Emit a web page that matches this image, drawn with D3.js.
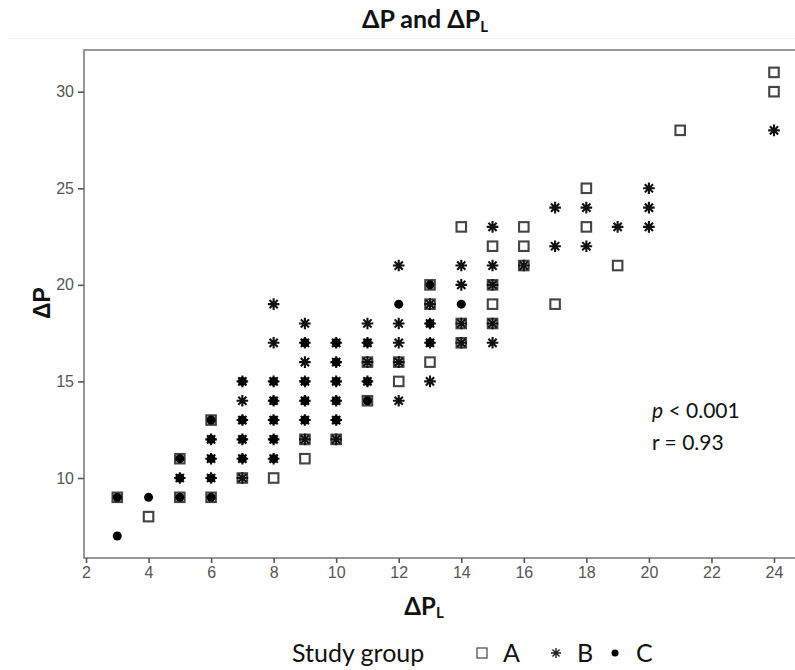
<!DOCTYPE html>
<html>
<head>
<meta charset="utf-8">
<script src="https://cdn.jsdelivr.net/npm/d3@7"></script>
<style>
  html, body { margin: 0; padding: 0; background: #fff; }
  svg { display: block; }
</style>
</head>
<body>
<svg id="chart" width="795" height="670"></svg>
<script>
// ---- data (ΔPL, ΔP) per study group ----
const groupA = [[3,9],[4,8],[5,11],[5,9],[6,13],[6,9],[7,10],[8,10],[9,12],[9,11],
  [10,12],[11,16],[11,14],[12,16],[12,15],[13,20],[13,19],[13,16],[14,23],[14,18],
  [14,17],[15,22],[15,20],[15,19],[15,18],[16,23],[16,22],[16,21],[17,19],[18,25],
  [18,23],[19,21],[21,28],[24,31],[24,30]];
const groupB = [[5,10],[6,12],[6,11],[6,10],[7,15],[7,14],[7,13],[7,12],[7,11],[7,10],
  [8,19],[8,17],[8,15],[8,14],[8,13],[8,12],[8,11],[9,18],[9,17],[9,16],[9,15],[9,14],
  [9,13],[9,12],[10,17],[10,16],[10,15],[10,14],[10,13],[10,12],[11,18],[11,17],[11,16],
  [11,15],[12,21],[12,18],[12,17],[12,16],[12,14],[13,19],[13,18],[13,17],[13,15],
  [14,21],[14,20],[14,18],[14,17],[15,23],[15,21],[15,20],[15,18],[15,17],[16,21],
  [17,24],[17,22],[18,24],[18,22],[19,23],[20,25],[20,24],[20,23],[24,28]];
const groupC = [[3,9],[3,7],[4,9],[5,11],[5,10],[5,9],[6,13],[6,12],[6,11],[6,10],[6,9],
  [7,15],[7,13],[7,12],[7,11],[8,15],[8,14],[8,13],[8,12],[8,11],[9,17],[9,15],[9,14],
  [9,13],[10,17],[10,16],[10,15],[10,14],[10,13],[11,17],[11,15],[11,14],[12,19],[13,20],
  [13,18],[13,17],[14,19]];
const xTicks = [2,4,6,8,10,12,14,16,18,20,22,24];
const yTicks = [10,15,20,25,30];
const groupNames = ["A","B","C"];

// ---- layout ----
const svg = d3.select("#chart");
const panel = {left: 84, top: 50, right: 800, bottom: 558};
const x = d3.scaleLinear().domain([2, 24]).range([86, 774]);
const y = d3.scaleLinear().domain([10, 30]).range([478, 91.7]);

const titleFont = "Lato, 'Open Sans', 'DejaVu Sans', sans-serif";
const tickFont = "'Liberation Sans', Arial, sans-serif";

// faint scan line above the panel
svg.append("line").attr("x1", 8).attr("x2", 795).attr("y1", 38.5).attr("y2", 38.5)
  .attr("stroke", "#f0f0f0").attr("stroke-width", 1);

// title
const title = svg.append("text").attr("x", 425).attr("y", 28)
  .attr("text-anchor", "middle").attr("font-family", titleFont)
  .attr("font-weight", "bold").attr("font-size", 25).attr("fill", "#111");
title.append("tspan").text("ΔP and ΔP");
title.append("tspan").text("L").attr("font-size", 15).attr("dy", 4);

// panel box
svg.append("rect").attr("x", panel.left).attr("y", panel.top)
  .attr("width", panel.right - panel.left).attr("height", panel.bottom - panel.top)
  .attr("fill", "#fff").attr("stroke", "#8c8c8c").attr("stroke-width", 1.8);

// axes
const xAxis = svg.append("g").attr("transform", `translate(0,${panel.bottom})`)
  .call(d3.axisBottom(x).tickValues(xTicks).tickSize(5).tickPadding(4).tickFormat(d3.format("d")));
const yAxis = svg.append("g").attr("transform", `translate(${panel.left},0)`)
  .call(d3.axisLeft(y).tickValues(yTicks).tickSize(6).tickPadding(4).tickFormat(d3.format("d")));
[xAxis, yAxis].forEach(g => {
  g.select(".domain").remove();
  g.selectAll(".tick line").attr("stroke", "#555").attr("stroke-width", 1.6);
  g.selectAll(".tick text").attr("fill", "#555").attr("font-family", tickFont).attr("font-size", 16);
});

// axis labels
const xl = svg.append("text").attr("x", 424).attr("y", 615).attr("text-anchor", "middle")
  .attr("font-family", titleFont).attr("font-weight", "bold").attr("font-size", 24).attr("fill", "#111");
xl.append("tspan").text("ΔP");
xl.append("tspan").text("L").attr("font-size", 15).attr("dy", 3);

svg.append("text").attr("transform", "translate(50,303) rotate(-90)")
  .attr("text-anchor", "middle").attr("font-family", tickFont).attr("font-weight", "bold")
  .attr("font-size", 23).attr("fill", "#111").text("ΔP");

// markers
const sq = 9.5;
function asteriskPath(r) {
  const d = r * Math.SQRT1_2;
  return `M${-r},0L${r},0M0,${-r}L0,${r}M${-d},${-d}L${d},${d}M${-d},${d}L${d},${-d}`;
}
const marks = svg.append("g");
marks.selectAll("rect.a").data(groupA).join("rect").attr("class", "a")
  .attr("x", d => x(d[0]) - sq / 2).attr("y", d => y(d[1]) - sq / 2)
  .attr("width", sq).attr("height", sq).attr("fill", "none")
  .attr("stroke", "#444").attr("stroke-width", 2.1);
marks.selectAll("path.b").data(groupB).join("path").attr("class", "b")
  .attr("transform", d => `translate(${x(d[0])},${y(d[1])})`)
  .attr("d", asteriskPath(5.8)).attr("fill", "none")
  .attr("stroke", "#111").attr("stroke-width", 2.1);
marks.selectAll("circle.c").data(groupC).join("circle").attr("class", "c")
  .attr("cx", d => x(d[0])).attr("cy", d => y(d[1])).attr("r", 4.5).attr("fill", "#000");

// annotation
const ann = svg.append("g").attr("font-family", titleFont).attr("font-size", 21).attr("fill", "#111");
const p1 = ann.append("text").attr("x", 652).attr("y", 418);
p1.append("tspan").text("p").attr("font-style", "italic");
p1.append("tspan").text(" < 0.001");
ann.append("text").attr("x", 652).attr("y", 450).text("r = 0.93");

// legend
const lg = svg.append("g").attr("font-family", titleFont).attr("font-size", 25).attr("fill", "#111");
lg.append("text").attr("x", 292).attr("y", 662).text("Study group");
const legX = [482, 556, 615];
const legY = 653;
lg.append("rect").attr("x", legX[0] - 5).attr("y", legY - 5).attr("width", 10).attr("height", 10)
  .attr("fill", "none").attr("stroke", "#444").attr("stroke-width", 1.2);
lg.append("path").attr("transform", `translate(${legX[1]},${legY})`).attr("d", asteriskPath(5))
  .attr("stroke", "#222").attr("stroke-width", 1.4);
lg.append("circle").attr("cx", legX[2]).attr("cy", legY).attr("r", 3.5).attr("fill", "#000");
lg.selectAll("text.g").data(groupNames).join("text").attr("class", "g")
  .attr("x", (d, i) => legX[i] + 21).attr("y", 662).text(d => d);
</script>
</body>
</html>
